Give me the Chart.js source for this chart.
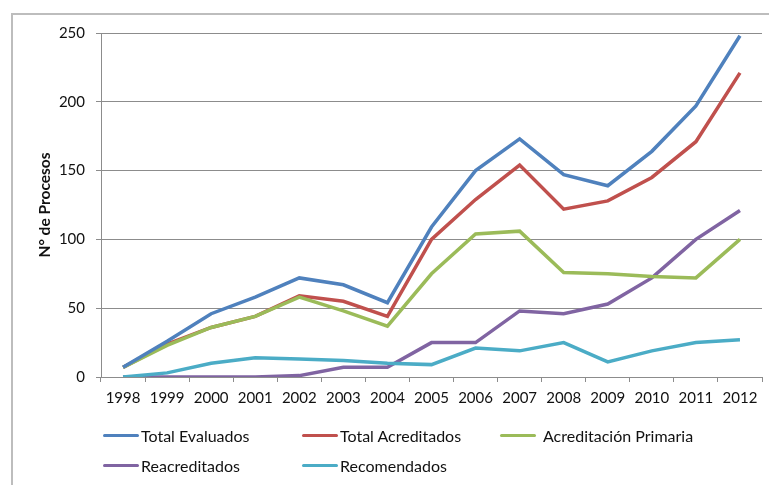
<!DOCTYPE html>
<html>
<head>
<meta charset="utf-8">
<script src="https://cdn.jsdelivr.net/npm/chart.js@4"></script>
<style>
  html, body { margin: 0; padding: 0; background: #fff; }
  #wrap { position: relative; width: 769px; height: 485px; overflow: hidden; }
  #frame { position: absolute; left: 11px; top: 13px; width: 800px; height: 500px;
           border-top: 2px solid #bdbdbd; border-left: 2px solid #bdbdbd; }
  canvas { position: absolute; left: 0; top: 0; }
  .legend { position: absolute; font-family: Lato, sans-serif; font-size: 16px; color: #111; }
  .legend span.item { position: absolute; white-space: nowrap; display: flex; align-items: center; }
  .legend span.swatch { display: inline-block; width: 36px; height: 3.5px; border-radius: 2px; margin-right: 2px; }
</style>
</head>
<body>
<div id="wrap">
  <div id="frame"></div>
  <canvas id="chart" width="769" height="485"></canvas>
  <div class="legend" id="legend"></div>
</div>
<script>
const years = ["1998","1999","2000","2001","2002","2003","2004","2005","2006","2007","2008","2009","2010","2011","2012"];

const totalEvaluados     = [7, 26, 46, 58, 72, 67, 54, 109, 150, 173, 147, 139, 164, 197, 248];
const totalAcreditados   = [7, 24, 36, 44, 59, 55, 44, 100, 129, 154, 122, 128, 145, 171, 221];
const acreditacionPrim   = [7, 23, 36, 44, 58, 48, 37, 75, 104, 106, 76, 75, 73, 72, 100];
const reacreditados      = [0, 0, 0, 0, 1, 7, 7, 25, 25, 48, 46, 53, 72, 100, 121];
const recomendados       = [0, 3, 10, 14, 13, 12, 10, 9, 21, 19, 25, 11, 19, 25, 27];

const seriesNames  = ["Total Evaluados", "Total Acreditados", "Acreditación Primaria", "Reacreditados", "Recomendados"];
const seriesColors = ["#4f81bd", "#c0504d", "#9bbb59", "#8064a2", "#4bacc6"];
const seriesData   = [totalEvaluados, totalAcreditados, acreditacionPrim, reacreditados, recomendados];

const yTicks = [0, 50, 100, 150, 200, 250];

const gridColor = "#8c8c8c";
const textColor = "#111";

// draw order: later series on top
const drawOrder = [3, 4, 1, 2, 0];

const datasets = seriesNames.map((name, i) => ({
  label: name,
  data: seriesData[i],
  borderColor: seriesColors[i],
  backgroundColor: seriesColors[i],
  borderWidth: 3.5,
  pointRadius: 0,
  tension: 0,
  fill: false,
  order: drawOrder.indexOf(i) * -1
}));

new Chart(document.getElementById("chart").getContext("2d"), {
  type: "line",
  data: { labels: years, datasets },
  options: {
    responsive: false,
    animation: false,
    devicePixelRatio: 1,
    layout: { padding: { top: 33, right: 7, bottom: 78, left: 0 } },
    plugins: { legend: { display: false }, tooltip: { enabled: false } },
    scales: {
      x: {
        type: "category",
        offset: true,
        grid: { offset: true, drawOnChartArea: false, drawTicks: true, tickLength: 5, color: gridColor },
        border: { display: true, color: gridColor, width: 1 },
        ticks: { color: textColor, font: { family: "Lato", size: 15 }, padding: 7, maxRotation: 0, autoSkip: false },
        afterFit: (scale) => { scale.height = 30; }
      },
      y: {
        min: 0,
        max: 250,
        afterBuildTicks: (scale) => { scale.ticks = yTicks.map(v => ({ value: v })); },
        grid: { color: gridColor, tickLength: 5, drawTicks: true },
        border: { display: true, color: gridColor, width: 1 },
        ticks: { color: textColor, font: { family: "Lato", size: 15 }, padding: 11 },
        title: {
          display: true,
          text: "N° de Procesos",
          color: textColor,
          font: { family: "Lato", size: 15.5, weight: "bold" },
          padding: { top: 36, bottom: 0 }
        },
        afterFit: (scale) => { scale.width = 101; }
      }
    }
  }
});

// legend laid out like the original (two rows, fixed columns)
const legendSlots = [[103, 436, 2], [302, 436, 2], [500, 436, 7], [103, 466, 2], [302, 466, 2]];
const legend = document.getElementById("legend");
seriesNames.forEach((name, i) => {
  const item = document.createElement("span");
  item.className = "item";
  item.style.left = legendSlots[i][0] + "px";
  item.style.top = (legendSlots[i][1] - 10) + "px";
  item.innerHTML = `<span class="swatch" style="background:${seriesColors[i]};margin-right:${legendSlots[i][2]}px"></span>${name}`;
  legend.appendChild(item);
});
</script>
</body>
</html>
